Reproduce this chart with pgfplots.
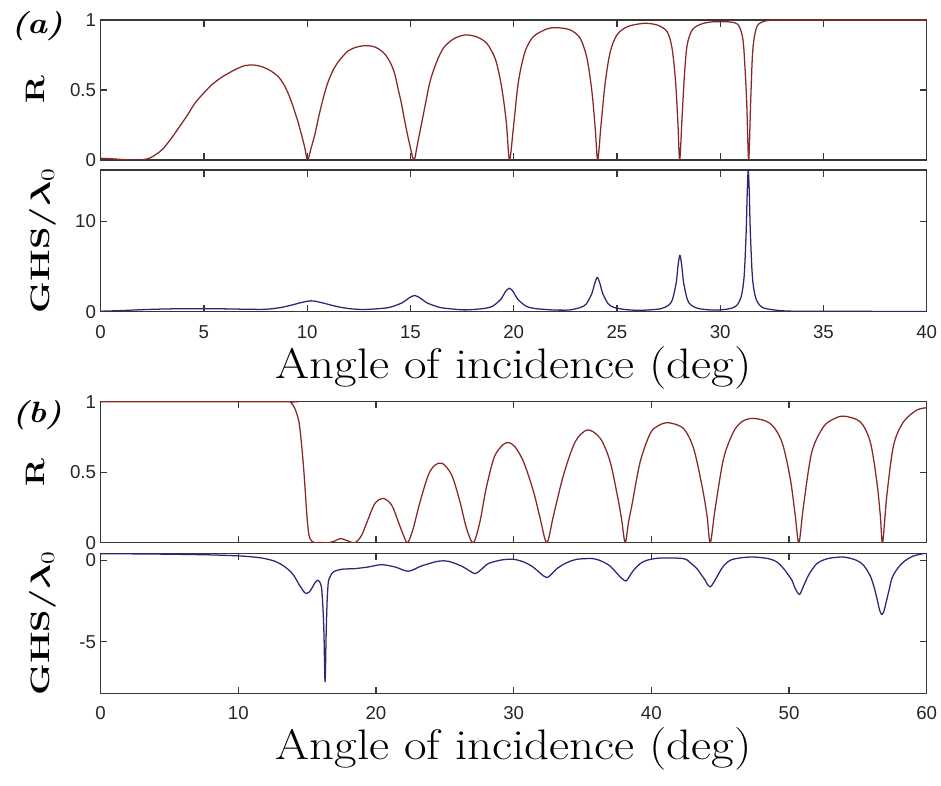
\documentclass[border=0pt]{standalone}
\usepackage{amsmath}
\usepackage{fontspec}
\usepackage{graphicx}
\usepackage{pgfplots}
\pgfplotsset{compat=1.18}
\newfontfamily\tickfont{Liberation Sans}
\definecolor{rcol}{RGB}{135,40,40}
\definecolor{gcol}{RGB}{40,40,115}
\definecolor{axcol}{RGB}{55,55,55}
\pgfplotsset{
  panel/.style={
    scale only axis, width=619.5pt,
    axis line style={draw=axcol, line width=0.9pt},
    tick style={draw=axcol, line width=0.9pt},
    major tick length=5pt,
    tick align=inside,
    ticklabel style={font=\tickfont\fontsize{14}{14}\selectfont, text=black!85},
    xticklabel style={inner ysep=0pt, yshift=-10pt},
    yticklabel style={inner ysep=0pt},
    /pgf/number format/assume math mode=true,
    every axis y label/.style={rotate=90, anchor=base, inner sep=0pt, font=\bfseries\fontsize{20}{22}\selectfont},
    every axis x label/.style={at={(axis description cs:0.5,0)}, anchor=base, inner sep=0pt, yshift=-50pt, font=\fontsize{32}{34}\selectfont},
    every axis plot/.append style={line width=0.95pt, line join=round, smooth, tension=0.5},
  },
}
\begin{document}
\begin{tikzpicture}
\path[use as bounding box] (0,0) rectangle (705.75pt,588.75pt);
\node[font=\bfseries\itshape\fontsize{22}{23}\selectfont] at (27.75pt,569.25pt) {\scalebox{1.15}[1]{(a)}};
\node[font=\bfseries\itshape\fontsize{22}{23}\selectfont] at (27.75pt,277.5pt) {\scalebox{1.15}[1]{(b)}};

% (a) R
\begin{axis}[panel, at={(75.5pt,468.75pt)}, anchor=south west, height=105pt,
  xmin=0, xmax=40, ymin=0, ymax=1, xtick={0,5,...,40}, xticklabels={},
  ytick={0,0.5,1},
  ylabel={\scalebox{1.25}[1]{R}},
  ylabel style={at={(axis description cs:-0.0674,0.5)}}]
\addplot[rcol] coordinates {
(0,0.012)(0.5,0.009)(1.0,0.004)(1.5,0.0)(2.0,0.002)(2.4,0.015)(2.95,0.07)(3.4,0.15)(3.76,0.226)(4.2,0.32)(4.56,0.405)(5.0,0.48)(5.37,0.536)(5.8,0.585)(6.18,0.619)(6.6,0.652)(6.98,0.674)(7.39,0.679)(7.79,0.667)(8.2,0.64)(8.6,0.595)(8.85,0.545)(9.08,0.476)(9.25,0.41)(9.4,0.345)(9.57,0.265)(9.73,0.179)(9.88,0.09)(10.02,0.0)
(10.2,0.09)(10.37,0.18)(10.53,0.29)(10.69,0.39)(10.85,0.48)(11.02,0.56)(11.25,0.64)(11.5,0.70)(11.75,0.745)(11.98,0.779)(12.3,0.802)(12.63,0.814)(12.95,0.817)(13.3,0.806)(13.6,0.779)(13.85,0.74)(14.08,0.679)(14.25,0.61)(14.4,0.51)(14.57,0.40)(14.73,0.274)(14.95,0.12)(15.17,0.0)
(15.35,0.12)(15.62,0.32)(15.95,0.56)(16.27,0.70)(16.6,0.80)(17.08,0.864)(17.64,0.893)(18.2,0.88)(18.7,0.833)(19.1,0.726)(19.34,0.583)(19.5,0.44)(19.65,0.26)(19.8,0.0)
(20.0,0.25)(20.23,0.56)(20.55,0.774)(20.95,0.88)(21.6,0.936)(22.09,0.945)(22.74,0.929)(23.22,0.869)(23.55,0.726)(23.79,0.488)(23.95,0.226)(24.07,0.0)
(24.23,0.25)(24.44,0.56)(24.68,0.774)(25.0,0.893)(25.5,0.952)(26.3,0.976)(26.95,0.964)(27.43,0.917)(27.67,0.798)(27.84,0.56)(27.95,0.274)(28.04,0.0)
(28.16,0.32)(28.27,0.607)(28.4,0.82)(28.65,0.93)(29.05,0.969)(29.5,0.985)(30.0,0.988)(30.5,0.985)(30.85,0.97)(31.05,0.90)(31.15,0.786)(31.28,0.43)(31.38,0.0)
(31.48,0.43)(31.58,0.786)(31.77,0.95)(32.1,0.99)(32.5,0.998)(33,1.0)(40,1.0)
};
\end{axis}

% (a) GHS
\begin{axis}[panel, at={(75.5pt,355pt)}, anchor=south west, height=106.3pt,
  xmin=0, xmax=40, ymin=0, ymax=15.7, xtick={0,5,...,40},
  ytick={0,10},
  ylabel={\scalebox{1.35}[1]{GHS/$\boldsymbol{\lambda}_0$}},
  ylabel style={at={(axis description cs:-0.0614,0.5)}},
  xlabel={\scalebox{1.15}[1]{Angle of incidence (deg)}}]
\addplot[gcol] coordinates {
(0,0.05)(1,0.12)(2,0.22)(3,0.29)(4,0.33)(5,0.33)(6,0.31)(7,0.27)(7.8,0.25)(8.2,0.3)(8.7,0.45)(9.2,0.7)(9.7,1.0)(10.2,1.2)(10.7,1.0)(11.2,0.7)(11.7,0.45)(12.2,0.3)(12.7,0.24)(13.4,0.32)(14.0,0.48)(14.6,0.98)(14.9,1.47)(15.2,1.8)(15.5,1.47)(15.8,0.98)(16.4,0.48)(17.0,0.3)(17.4,0.22)(17.79,0.2)(18.59,0.36)(18.99,0.62)(19.39,1.4)(19.59,2.18)(19.79,2.6)(19.99,2.18)(20.19,1.4)(20.59,0.62)(20.99,0.36)(21.79,0.2)(22.3,0.17)(22.75,0.2)(23.25,0.48)(23.52,0.86)(23.785,2.0)(23.92,3.1)(24.05,3.79)(24.18,3.1)(24.315,2.0)(24.58,0.86)(24.85,0.48)(25.35,0.25)(26.0,0.15)(26.6,0.2)(27.15,0.34)(27.51,0.73)(27.69,1.35)(27.87,3.2)(27.96,5.1)(28.05,6.25)(28.14,5.1)(28.23,3.2)(28.41,1.35)(28.59,0.73)(28.95,0.34)(29.6,0.18)(30.0,0.2)(30.4,0.3)(30.76,0.6)(31.01,1.6)(31.16,3.9)(31.26,8.9)(31.31,13.2)(31.36,15.7)(31.41,13.2)(31.46,8.9)(31.56,3.9)(31.71,1.6)(31.96,0.6)(32.3,0.3)(33.0,0.1)(34,0.05)(40,0.02)
};
\end{axis}

% (b) R
\begin{axis}[panel, at={(75.5pt,181.7pt)}, anchor=south west, height=105.75pt,
  xmin=0, xmax=60, ymin=0, ymax=1, xtick={0,10,...,60}, xticklabels={},
  ytick={0,0.5,1},
  ylabel={\scalebox{1.25}[1]{R}},
  ylabel style={at={(axis description cs:-0.0674,0.5)}}]
\addplot[rcol] coordinates {
(0,1)(13.4,1)(13.8,0.995)(14.1,0.953)(14.4,0.858)(14.6,0.69)(14.8,0.456)(14.96,0.22)(15.13,0.054)(15.38,0.007)(15.6,0.0)(16.0,0.002)(16.54,0.0)(17.0,0.012)(17.43,0.03)(17.9,0.015)(18.47,0.0)(18.96,0.054)(19.44,0.17)(19.93,0.28)(20.53,0.314)(21.14,0.267)(21.62,0.149)(21.99,0.054)(22.3,0.0)
(22.7,0.1)(23.2,0.29)(23.8,0.48)(24.28,0.55)(24.82,0.563)(25.5,0.48)(26.1,0.29)(26.58,0.1)(27.07,0.0)
(27.55,0.149)(28.0,0.385)(28.6,0.61)(29.25,0.697)(29.65,0.71)(30.1,0.68)(30.72,0.574)(31.45,0.36)(31.93,0.17)(32.41,0.0)
(32.9,0.196)(33.62,0.48)(34.47,0.716)(35.37,0.80)(36.29,0.74)(37.01,0.574)(37.62,0.29)(37.85,0.16)(38.1,0.0)
(38.35,0.15)(38.59,0.267)(39.19,0.574)(39.92,0.775)(40.5,0.83)(41.25,0.851)(42.34,0.81)(43.07,0.669)(43.67,0.409)(44.04,0.196)(44.28,0.0)
(44.64,0.244)(45.25,0.598)(45.97,0.787)(46.6,0.86)(47.43,0.882)(48.64,0.846)(49.48,0.716)(50.09,0.456)(50.45,0.196)(50.72,0.0)
(51.06,0.267)(51.66,0.645)(52.51,0.823)(53.2,0.875)(53.96,0.898)(55.17,0.858)(55.9,0.716)(56.38,0.433)(56.63,0.196)(56.8,0.0)
(57.11,0.338)(57.6,0.693)(58.32,0.858)(59.29,0.941)(60,0.957)
};
\end{axis}

% (b) GHS
\begin{axis}[panel, at={(75.5pt,68.8pt)}, anchor=south west, height=105pt,
  xmin=0, xmax=60, ymin=-8.15, ymax=0.43, xtick={0,10,...,60},
  ytick={-5,0},
  ylabel={\scalebox{1.35}[1]{GHS/$\boldsymbol{\lambda}_0$}},
  ylabel style={at={(axis description cs:-0.0614,0.5)}},
  xlabel={\scalebox{1.15}[1]{Angle of incidence (deg)}}]
\addplot[gcol] coordinates {
(0,0.40)(3,0.39)(6,0.36)(8,0.33)(10,0.27)(11,0.21)(11.7,0.14)(12.2,0.05)(12.66,-0.06)(13.0,-0.2)(13.4,-0.41)(13.8,-0.7)(14.1,-1.02)(14.35,-1.4)(14.6,-1.73)(14.8,-1.97)(14.96,-2.04)(15.15,-1.95)(15.33,-1.73)(15.55,-1.4)(15.76,-1.22)(15.9,-1.3)(16.05,-1.73)(16.15,-3.0)(16.22,-4.5)(16.3,-7.45)(16.38,-4.5)(16.45,-2.5)(16.54,-1.33)(16.7,-0.95)(16.9,-0.71)(17.5,-0.55)(18.47,-0.51)(19.44,-0.41)(20.4,-0.27)(21.38,-0.41)(22.35,-0.67)(23.3,-0.35)(24.5,-0.06)(25.25,-0.06)(26.2,-0.35)(26.8,-0.65)(27.2,-0.82)(27.6,-0.6)(28.16,-0.2)(29.13,0.02)(29.98,0.06)(30.72,-0.1)(31.3,-0.35)(31.69,-0.61)(32.05,-0.88)(32.41,-1.06)(32.75,-0.85)(33.14,-0.51)(33.87,-0.14)(34.59,0.06)(35.8,0.1)(36.5,-0.1)(37.0,-0.35)(37.4,-0.7)(37.74,-1.02)(38.15,-1.27)(38.4,-1.0)(38.71,-0.61)(39.2,-0.2)(39.68,0.0)(40.65,0.14)(42.34,0.1)(42.9,-0.2)(43.31,-0.51)(43.6,-0.85)(43.91,-1.22)(44.05,-1.45)(44.28,-1.63)(44.5,-1.4)(44.76,-1.02)(45.2,-0.4)(45.73,0.0)(46.5,0.15)(47.43,0.2)(48.5,0.1)(49.12,-0.1)(49.6,-0.5)(49.97,-0.92)(50.2,-1.2)(50.45,-1.73)(50.6,-1.95)(50.77,-2.1)(50.95,-1.8)(51.18,-1.33)(51.5,-0.8)(52.03,-0.2)(52.8,0.1)(53.96,0.2)(54.9,0.0)(55.42,-0.31)(55.9,-0.95)(56.14,-1.53)(56.35,-2.2)(56.5,-2.76)(56.6,-3.1)(56.75,-3.33)(56.9,-3.1)(57.06,-2.55)(57.25,-1.9)(57.47,-1.12)(57.8,-0.6)(58.32,-0.1)(59.0,0.25)(59.78,0.41)(60,0.43)
};
\end{axis}
\end{tikzpicture}
\end{document}
